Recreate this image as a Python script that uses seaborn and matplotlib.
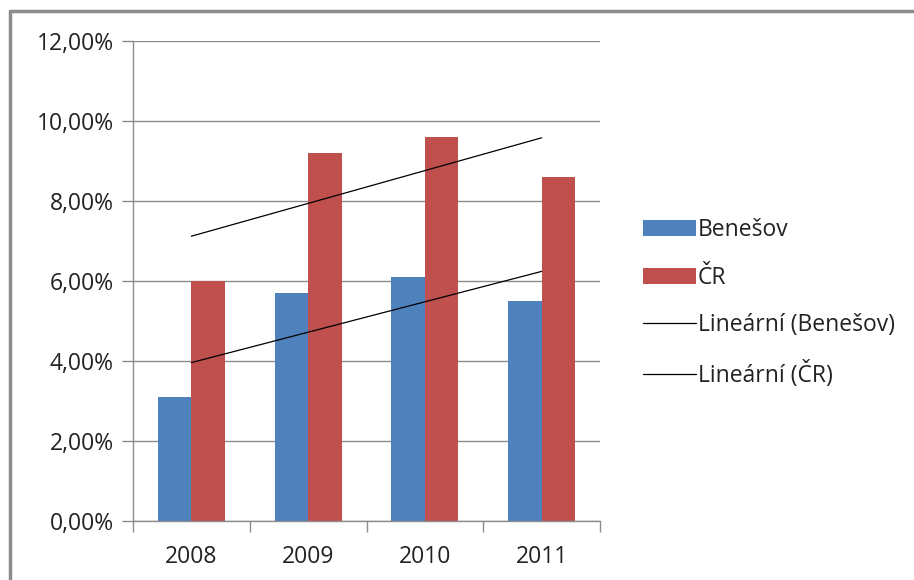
import numpy as np
import pandas as pd
import matplotlib
matplotlib.use("Agg")
import matplotlib.pyplot as plt
import seaborn as sns
from matplotlib.lines import Line2D
from matplotlib.patches import Patch

years = ["2008", "2009", "2010", "2011"]
benesov = [3.1, 5.7, 6.1, 5.5]
cr = [6.0, 9.2, 9.6, 8.6]
series = ["Benešov", "ČR"]
trend_labels = ["Lineární (Benešov)", "Lineární (ČR)"]
yticks = [0, 2, 4, 6, 8, 10, 12]

colors = ["#4F81BD", "#C0504D"]

sns.set_theme(style="white")
plt.rcParams["font.family"] = ["Open Sans", "DejaVu Sans"]

FS = 16.5

df = pd.DataFrame({
    "year": years * 2,
    "value": benesov + cr,
    "series": [series[0]] * 4 + [series[1]] * 4,
})

fig = plt.figure(figsize=(9.14, 5.80), dpi=100)
ax = fig.add_axes([133 / 914, 1 - 521 / 580, (600 - 133) / 914, (521 - 41) / 580])

sns.barplot(data=df, x="year", y="value", hue="series", palette=colors,
            width=0.572, gap=0, saturation=1, ax=ax, legend=False, edgecolor="none")

# linear trendlines
xs = np.arange(len(years))
for vals in (benesov, cr):
    k, q = np.polyfit(xs, vals, 1)
    ax.plot(xs, k * xs + q, color="black", lw=0.9)

ax.set_ylim(0, 12)
ax.set_xlim(-0.5, 3.5)
ax.set_yticks(yticks)
ax.set_yticklabels([f"{t:.2f}".replace(".", ",") + "%" for t in yticks])
ax.set_xlabel("")
ax.set_ylabel("")
ax.grid(axis="y", color="#8C8C8C", lw=1)
ax.set_axisbelow(True)
for s in ("top", "right"):
    ax.spines[s].set_visible(False)
for s in ("left", "bottom"):
    ax.spines[s].set_color("#8C8C8C")
    ax.spines[s].set_linewidth(1)

ax.tick_params(axis="y", which="major", length=8, width=1, color="#8C8C8C",
               labelsize=FS, pad=6, left=True, direction="out")
ax.set_xticks(xs)
ax.tick_params(axis="x", which="major", length=0, labelsize=FS, pad=17)
ax.set_xticks([-0.5, 0.5, 1.5, 2.5, 3.5], minor=True)
ax.tick_params(axis="x", which="minor", length=8, width=1, color="#8C8C8C",
               bottom=True, direction="out")
for lab in ax.get_yticklabels() + ax.get_xticklabels():
    lab.set_color("#222222")

handles = [Patch(facecolor=colors[0], edgecolor="none"),
           Patch(facecolor=colors[1], edgecolor="none"),
           Line2D([], [], color="black", lw=0.9),
           Line2D([], [], color="black", lw=0.9)]
leg = fig.legend(handles, series + trend_labels, loc="center left",
                 bbox_to_anchor=(643 / 914, 1 - 303 / 580), frameon=False,
                 fontsize=FS, handlelength=2.3, handleheight=0.7,
                 handletextpad=0.1, labelspacing=1.02, borderaxespad=0,
                 borderpad=0)
for t in leg.get_texts():
    t.set_color("#222222")

# outer chart frame
fig.add_artist(Line2D([10 / 914, 10 / 914], [0, 1 - 11 / 580], transform=fig.transFigure,
                      color="#8C8C8C", lw=2.5))
fig.add_artist(Line2D([10 / 914, 1.01], [1 - 11 / 580, 1 - 11 / 580], transform=fig.transFigure,
                      color="#8C8C8C", lw=2.5))

fig.savefig("out.png", dpi=100)
